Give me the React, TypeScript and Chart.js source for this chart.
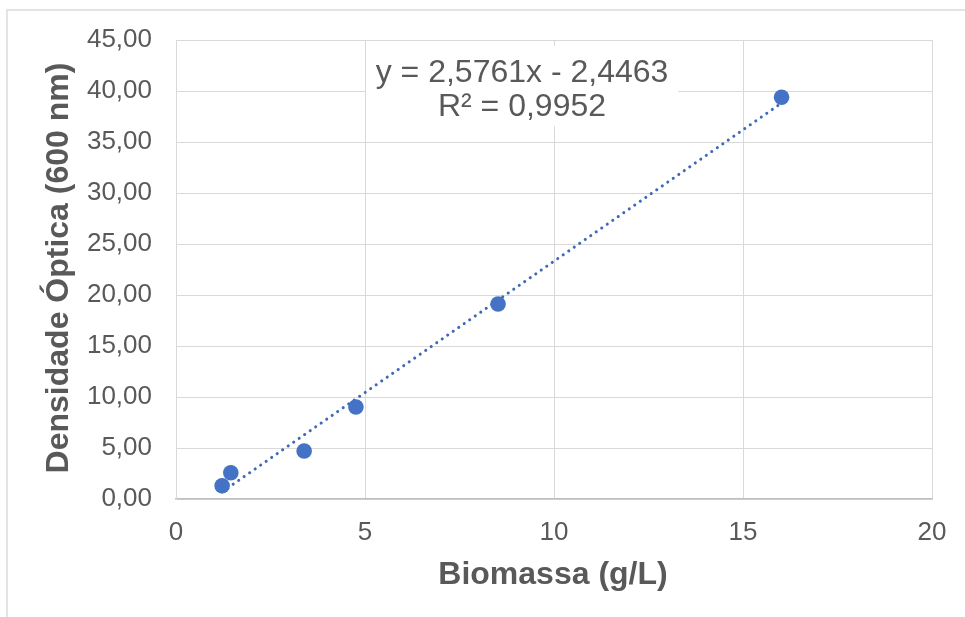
import React, { useEffect, useRef } from "react";
import { Chart, registerables } from "chart.js";

Chart.register(...registerables);

// Measured samples: biomass (g/L) vs optical density at 600 nm
const BIOMASS = [1.22, 1.45, 3.39, 4.76, 8.52, 16.02];
const OPTICAL_DENSITY = [1.3, 2.58, 4.71, 9.02, 19.12, 39.38];

// Linear trendline fitted to the samples
const SLOPE = 2.5761;
const INTERCEPT = -2.4463;
const R_SQUARED = 0.9952;

const X_MIN = 0;
const X_MAX = 20;
const X_STEP = 5;
const Y_MIN = 0;
const Y_MAX = 45;
const Y_STEP = 5;

const X_TITLE = "Biomassa (g/L)";
const Y_TITLE = "Densidade Óptica (600 nm)";

const FONT = '"Liberation Sans", Arial, sans-serif';
const TEXT = "#595959";
const BLUE = "#4472C4";
const GRID = "#d9d9d9";

const fmt = (v: number, d: number) => v.toFixed(d).replace(".", ",");
const signed = (v: number, d: number) => (v < 0 ? " - " : " + ") + fmt(Math.abs(v), d);
const EQUATION = "y = " + fmt(SLOPE, 4) + "x" + signed(INTERCEPT, 4);
const R2_LABEL = "R² = " + fmt(R_SQUARED, 4);

const decorations = {
  id: "decorations",
  beforeDatasetsDraw(chart: Chart) {
    const ctx = chart.ctx;
    ctx.save();
    // equation label with white background
    ctx.fillStyle = "#ffffff";
    ctx.fillRect(366, 46, 312, 80);
    ctx.fillStyle = TEXT;
    ctx.font = `32px ${FONT}`;
    ctx.textAlign = "center";
    ctx.textBaseline = "middle";
    ctx.fillText(EQUATION, 522, 73);
    ctx.fillText(R2_LABEL, 522, 107);
    ctx.restore();
  },
  afterDraw(chart: Chart) {
    const ctx = chart.ctx;
    ctx.save();
    // outer frame
    ctx.strokeStyle = "#dcdcdc";
    ctx.lineWidth = 1.5;
    ctx.strokeRect(7, 10, 1200, 1200);
    // axis titles
    ctx.fillStyle = TEXT;
    ctx.font = `bold 32px ${FONT}`;
    ctx.textAlign = "center";
    ctx.textBaseline = "middle";
    ctx.fillText(X_TITLE, 553, 575);
    ctx.translate(59, 268);
    ctx.rotate(-Math.PI / 2);
    ctx.fillText(Y_TITLE, 0, 0);
    ctx.restore();
  },
};

export default function App() {
  const ref = useRef<HTMLCanvasElement | null>(null);

  useEffect(() => {
    if (!ref.current) return;
    const points = BIOMASS.map((x, i) => ({ x, y: OPTICAL_DENSITY[i] }));
    const x0 = Math.min(...BIOMASS);
    const x1 = Math.max(...BIOMASS);
    const trend = [x0, x1].map((x) => ({ x, y: SLOPE * x + INTERCEPT }));

    const chart = new Chart(ref.current, {
      type: "scatter",
      data: {
        datasets: [
          {
            label: "Amostras",
            data: points,
            backgroundColor: BLUE,
            borderWidth: 0,
            pointRadius: 7.8,
            order: 0,
          },
          {
            type: "line",
            label: "Linear",
            data: trend,
            borderColor: "#3f68b5",
            borderWidth: 3,
            borderDash: [0.1, 6.6],
            borderCapStyle: "round",
            pointRadius: 0,
            fill: false,
            order: 1,
          } as any,
        ],
      },
      options: {
        responsive: false,
        animation: false,
        layout: { padding: { top: 40, right: 33, left: 0, bottom: 0 } },
        plugins: { legend: { display: false }, tooltip: { enabled: false } },
        scales: {
          x: {
            type: "linear",
            min: X_MIN,
            max: X_MAX,
            afterFit: (s: any) => {
              s.height = 118;
            },
            grid: { color: GRID, drawTicks: false },
            border: { color: "#bfbfbf", width: 1.5 },
            ticks: {
              stepSize: X_STEP,
              padding: 18,
              color: TEXT,
              font: { family: FONT, size: 26 },
            },
          },
          y: {
            type: "linear",
            min: Y_MIN,
            max: Y_MAX,
            afterFit: (s: any) => {
              s.width = 176;
            },
            grid: { color: GRID, drawTicks: false },
            border: { color: GRID },
            ticks: {
              stepSize: Y_STEP,
              padding: 24,
              color: TEXT,
              font: { family: FONT, size: 26 },
              callback: (v: any) => fmt(Number(v), 2),
            },
          },
        },
      },
      plugins: [decorations],
    });
    return () => chart.destroy();
  }, []);

  return (
    <div style={{ position: "absolute", left: 0, top: 0, width: 965, height: 617, background: "#fff" }}>
      <canvas ref={ref} width={965} height={617} />
    </div>
  );
}
